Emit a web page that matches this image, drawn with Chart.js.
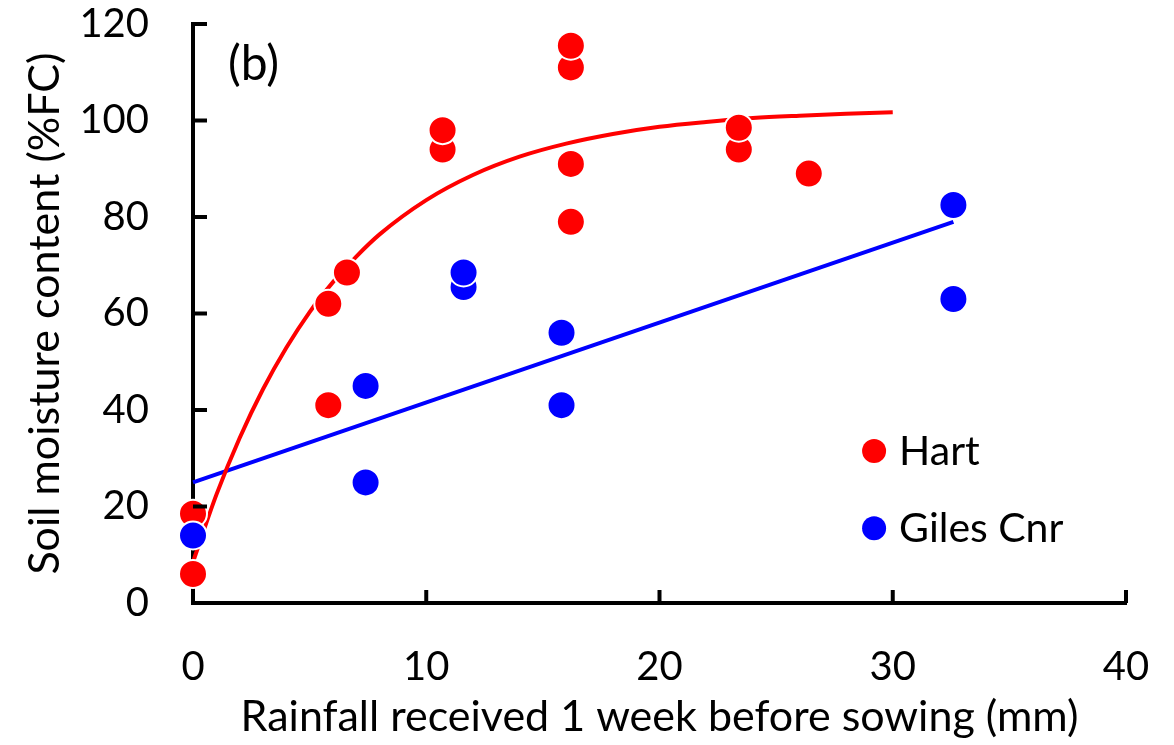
<!DOCTYPE html>
<html>
<head>
<meta charset="utf-8">
<script src="https://cdn.jsdelivr.net/npm/chart.js@4"></script>
<style>
html,body{margin:0;padding:0;background:#fff;}
#wrap{width:1174px;height:745px;position:relative;}
</style>
</head>
<body>
<div id="wrap"><canvas id="c" width="1174" height="745"></canvas></div>
<script>
// ---- data ----
const hartX  = [0, 0, 5.8, 5.8, 6.6, 10.7, 10.7, 16.2, 16.2, 16.2, 16.2, 23.4, 23.4, 26.4];
const hartY  = [18.5, 6, 62, 41, 68.5, 94, 98, 79, 91, 111, 115.5, 94, 98.5, 89];
const gilesX = [0, 7.4, 7.4, 11.6, 11.6, 15.8, 15.8, 32.6, 32.6];
const gilesY = [14, 25, 45, 65.5, 68.5, 41, 56, 63, 82.5];
// fitted curve (Hart) read at several x positions
const hartFitX = [0, 1, 2, 3, 4, 5, 6, 7, 8, 10, 12, 14, 16, 18, 20, 22, 24, 26, 28, 30];
const hartFitY = [8.5, 22.4, 34.2, 44.3, 52.9, 60.3, 66.5, 71.8, 76.4, 83.5, 88.7, 92.5, 95.2, 97.2, 98.7, 99.7, 100.5, 101.0, 101.4, 101.7];
// fitted line (Giles Cnr)
const gilesFitX = [0, 32.6];
const gilesFitY = [25, 79];
const seriesNames = ['Hart', 'Giles Cnr'];
const xTitle = 'Rainfall received 1 week before sowing (mm)';
const yTitle = 'Soil moisture content (%FC)';
const panelLabel = '(b)';

const RED = '#ff0000', BLUE = '#0000ff';
const FONT = 'Lato, "Open Sans", sans-serif';

const pts = (xs, ys) => xs.map((x, i) => ({x: x, y: ys[i]}));

const inwardTicks = {
  id: 'inwardTicks',
  afterDraw(chart) {
    const ctx = chart.ctx;
    const xs = chart.scales.x, ys = chart.scales.y;
    const ca = chart.chartArea;
    ctx.save();
    ctx.strokeStyle = '#000';
    ctx.lineWidth = 4;
    ctx.lineCap = 'butt';
    xs.ticks.forEach(t => {
      const px = xs.getPixelForValue(t.value);
      ctx.beginPath();
      ctx.moveTo(px, ca.bottom);
      ctx.lineTo(px, ca.bottom - 13);
      ctx.stroke();
    });
    ys.ticks.forEach(t => {
      const py = ys.getPixelForValue(t.value);
      ctx.beginPath();
      ctx.moveTo(ca.left, py);
      ctx.lineTo(ca.left + 14, py);
      ctx.stroke();
    });
    ctx.restore();
  }
};

const labelsPlugin = {
  id: 'labelsPlugin',
  afterDraw(chart) {
    const ctx = chart.ctx;
    const xs = chart.scales.x, ys = chart.scales.y;
    ctx.save();
    ctx.fillStyle = '#000';
    ctx.textBaseline = 'middle';
    ctx.textAlign = 'left';
    ctx.font = '48px ' + FONT;
    ctx.fillText(panelLabel, xs.getPixelForValue(1.5), ys.getPixelForValue(111.5));
    // legend
    const lg = [[seriesNames[0], RED, 31.5], [seriesNames[1], BLUE, 15.5]];
    ctx.font = '41px ' + FONT;
    lg.forEach(([name, col, yv]) => {
      const cx = xs.getPixelForValue(29.2);
      const cy = ys.getPixelForValue(yv);
      ctx.beginPath();
      ctx.arc(cx, cy, 12, 0, Math.PI * 2);
      ctx.fillStyle = col;
      ctx.fill();
      ctx.fillStyle = '#000';
      ctx.fillText(name, cx + 25, cy + 1);
    });
    ctx.restore();
  }
};

const hiddenGrid = (len) => ({ display: true, drawOnChartArea: false, drawTicks: true, tickLength: len, color: 'rgba(0,0,0,0)' });

new Chart(document.getElementById('c'), {
  type: 'scatter',
  data: {
    datasets: [
      {
        label: seriesNames[1],
        data: pts(gilesX, gilesY),
        backgroundColor: BLUE,
        borderColor: '#fff',
        borderWidth: 2,
        pointRadius: 14,
        showLine: false,
        order: 0
      },
      {
        label: seriesNames[0],
        data: pts(hartX, hartY),
        backgroundColor: RED,
        borderColor: '#fff',
        borderWidth: 2,
        pointRadius: 14,
        showLine: false,
        order: 1
      },
      {
        label: 'Hart fit',
        data: pts(hartFitX, hartFitY),
        borderColor: RED,
        borderWidth: 4,
        pointRadius: 0,
        showLine: true,
        cubicInterpolationMode: 'monotone',
        fill: false,
        order: 2
      },
      {
        label: 'Giles fit',
        data: pts(gilesFitX, gilesFitY),
        borderColor: BLUE,
        borderWidth: 4,
        pointRadius: 0,
        showLine: true,
        fill: false,
        order: 3
      }
    ]
  },
  options: {
    responsive: false,
    animation: false,
    clip: false,
    layout: { padding: { top: 23, right: 48, left: 0, bottom: 0 } },
    plugins: {
      legend: { display: false },
      tooltip: { enabled: false }
    },
    scales: {
      x: {
        type: 'linear',
        min: 0, max: 40,
        grid: hiddenGrid(40),
        border: { display: true, color: '#000', width: 4 },
        ticks: { stepSize: 10, color: '#000', font: { family: FONT, size: 40 }, padding: 0 },
        title: { display: true, text: xTitle, color: '#000', font: { family: FONT, size: 43 }, padding: { top: 0, bottom: 2 } },
        afterFit(s) { s.height = 142; }
      },
      y: {
        type: 'linear',
        min: 0, max: 120,
        grid: hiddenGrid(44),
        border: { display: true, color: '#000', width: 4 },
        ticks: { stepSize: 20, color: '#000', font: { family: FONT, size: 40 }, padding: 0 },
        title: { display: true, text: yTitle, color: '#000', font: { family: FONT, size: 43 }, padding: { top: 19, bottom: 0 } },
        afterFit(s) { s.width = 193; }
      }
    }
  },
  plugins: [inwardTicks, labelsPlugin]
});
</script>
</body>
</html>
